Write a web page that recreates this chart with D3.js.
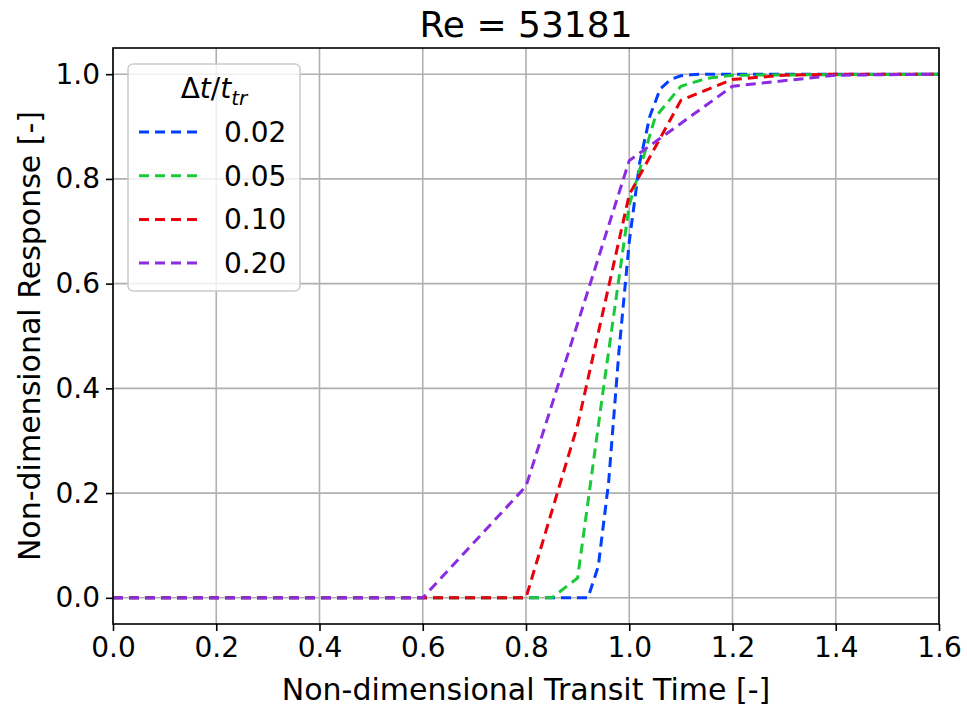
<!DOCTYPE html>
<html>
<head>
<meta charset="utf-8">
<script src="https://cdn.jsdelivr.net/npm/d3@7"></script>
<style>
  body { margin: 0; background: #fff; }
  text { font-family: "DejaVu Sans", sans-serif; }
</style>
</head>
<body>
<svg id="chart"></svg>
<script>
// series (only the break points of each piecewise-linear curve)
const labels = ["0.02", "0.05", "0.10", "0.20"];
const colors = ["#023eff", "#1ac938", "#e8000b", "#8b2be2"];

const t002 = [0, 0.92, 0.94, 0.96, 0.98, 1.00, 1.02, 1.04, 1.06, 1.08, 1.10, 1.12, 1.14, 1.6];
const r002 = [0, 0, 0.06, 0.22, 0.47, 0.68, 0.83, 0.92, 0.972, 0.99, 0.997, 0.999, 1.0, 1.0];

const t005 = [0, 0.85, 0.90, 0.95, 1.00, 1.05, 1.10, 1.15, 1.20, 1.6];
const r005 = [0, 0, 0.038, 0.40, 0.75, 0.917, 0.977, 0.992, 0.998, 1.0];

const t010 = [0, 0.8, 0.9, 1.0, 1.1, 1.2, 1.3, 1.4, 1.6];
const r010 = [0, 0, 0.33, 0.77, 0.95, 0.99, 0.998, 1.0, 1.0];

const t020 = [0, 0.2, 0.4, 0.6, 0.8, 1.0, 1.2, 1.4, 1.6];
const r020 = [0, 0, 0, 0, 0.213, 0.835, 0.977, 0.998, 1.0];

const xTicks = [0, 0.2, 0.4, 0.6, 0.8, 1.0, 1.2, 1.4, 1.6];
const yTicks = [0, 0.2, 0.4, 0.6, 0.8, 1.0];

const series = [
  { label: labels[0], color: colors[0], t: t002, r: r002 },
  { label: labels[1], color: colors[1], t: t005, r: r005 },
  { label: labels[2], color: colors[2], t: t010, r: r010 },
  { label: labels[3], color: colors[3], t: t020, r: r020 }
];

const W = 967, H = 709;
const margin = { top: 48, right: 28, bottom: 85, left: 113 };
const width = W - margin.left - margin.right;
const height = H - margin.top - margin.bottom;

const svg = d3.select("#chart").attr("width", W).attr("height", H);
const g = svg.append("g").attr("transform", `translate(${margin.left},${margin.top})`);

const x = d3.scaleLinear().domain([0, 1.6]).range([0, width]);
const y = d3.scaleLinear().domain([-0.05, 1.05]).range([height, 0]);

// grid
g.append("g").selectAll("line").data(xTicks).join("line")
  .attr("x1", d => x(d)).attr("x2", d => x(d))
  .attr("y1", 0).attr("y2", height)
  .attr("stroke", "#b0b0b0").attr("stroke-width", 1.6);
g.append("g").selectAll("line").data(yTicks).join("line")
  .attr("y1", d => y(d)).attr("y2", d => y(d))
  .attr("x1", 0).attr("x2", width)
  .attr("stroke", "#b0b0b0").attr("stroke-width", 1.6);

// curves
const line = d3.line().x(d => x(d[0])).y(d => y(d[1]));
series.forEach(s => {
  g.append("path")
    .datum(s.t.map((t, i) => [t, s.r[i]]))
    .attr("d", line)
    .attr("fill", "none")
    .attr("stroke", s.color)
    .attr("stroke-width", 3)
    .attr("stroke-dasharray", "10,6");
});

// axes
const xAxis = g.append("g").attr("transform", `translate(0,${height})`)
  .call(d3.axisBottom(x).tickValues(xTicks).tickFormat(d3.format(".1f")).tickSizeOuter(0).tickSize(7).tickPadding(6));
const yAxis = g.append("g")
  .call(d3.axisLeft(y).tickValues(yTicks).tickFormat(d3.format(".1f")).tickSizeOuter(0).tickSize(7).tickPadding(6));
[xAxis, yAxis].forEach(a => {
  a.select(".domain").remove();
  a.selectAll(".tick line").attr("stroke", "#000").attr("stroke-width", 1.6);
  a.selectAll(".tick text").attr("font-size", 28).attr("fill", "#000")
    .attr("font-family", "DejaVu Sans, sans-serif");
});

// frame
g.append("rect").attr("width", width).attr("height", height)
  .attr("fill", "none").attr("stroke", "#000").attr("stroke-width", 1.6);

// titles
svg.append("text").attr("x", margin.left + width / 2).attr("y", 37)
  .attr("text-anchor", "middle").attr("font-size", 36).text("Re = 53181");
svg.append("text").attr("x", margin.left + width / 2).attr("y", 700)
  .attr("text-anchor", "middle").attr("font-size", 30).text("Non-dimensional Transit Time [-]");
svg.append("text").attr("transform", `translate(40,${margin.top + height / 2}) rotate(-90)`)
  .attr("text-anchor", "middle").attr("font-size", 30).text("Non-dimensional Response [-]");

// legend
const lg = g.append("g").attr("transform", "translate(15,16)");
lg.append("rect").attr("width", 172).attr("height", 227).attr("rx", 5)
  .attr("fill", "#fff").attr("fill-opacity", 0.8)
  .attr("stroke", "#cccccc").attr("stroke-width", 1.6);
const lt = lg.append("text").attr("x", 86).attr("y", 34).attr("text-anchor", "middle")
  .attr("font-size", 28);
lt.append("tspan").text("Δ");
lt.append("tspan").attr("font-style", "italic").text("t");
lt.append("tspan").text("/");
lt.append("tspan").attr("font-style", "italic").text("t");
lt.append("tspan").attr("font-style", "italic").attr("font-size", 20).attr("dy", 7).text("tr");
series.forEach((s, i) => {
  const yy = 68 + i * 43.7;
  lg.append("line").attr("x1", 11).attr("x2", 71).attr("y1", yy).attr("y2", yy)
    .attr("stroke", s.color).attr("stroke-width", 3).attr("stroke-dasharray", "10,6");
  lg.append("text").attr("x", 96).attr("y", yy + 10).attr("font-size", 28).text(s.label);
});
</script>
</body>
</html>
